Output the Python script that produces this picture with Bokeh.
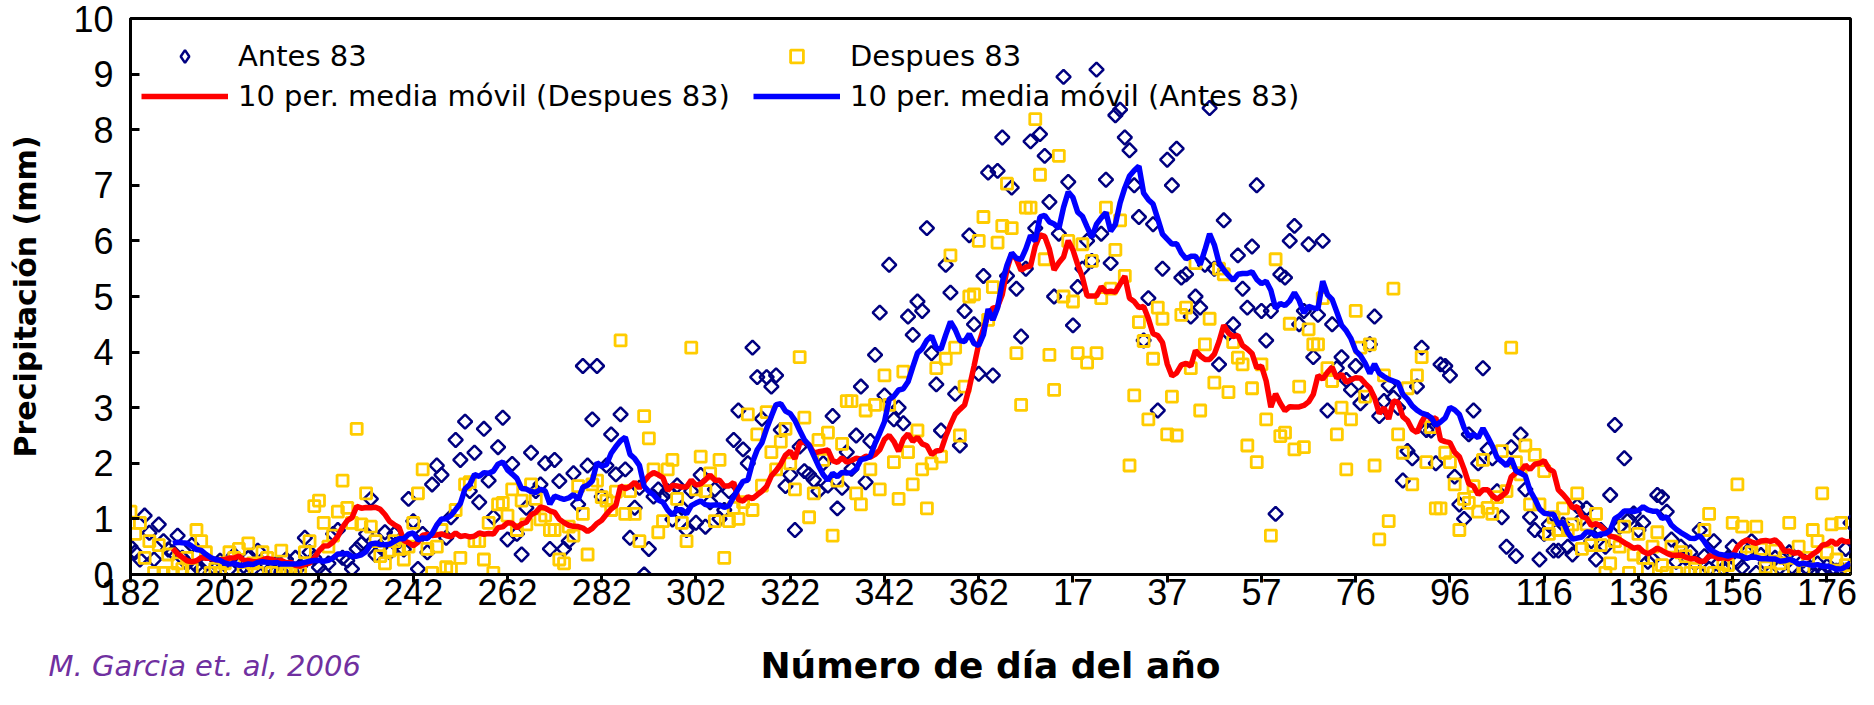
import math
import pandas as pd
from bokeh.plotting import figure
from bokeh.models import Range1d, FixedTicker, Legend, LegendItem, Title, LinearAxis
from bokeh.embed import file_html
from bokeh.resources import INLINE

# Day-of-year tick labels (every 20 categories, starting at day 182)
tick_labels = ["182", "202", "222", "242", "262", "282", "302", "322", "342", "362",
               "17", "37", "57", "76", "96", "116", "136", "156", "176"]

# Precipitation (mm) per day, series "Antes 83"
antes = [
    0.5, 0.4, 0.27, 1.06, 0.75, 0.27, 0.9, 0.6, 0.45, 0.4,
    0.7, 0.3, 0.2, 0.53, 0.15, 0.1, 0.2, 0.03, 0.1, 0.25,
    0.2, 0.1, 0.35, 0.2, 0.15, 0.3, 0.1, 0.43, 0.2, 0.15,
    0.1, 0.2, 0.05, 0.27, 0.1, 0.3, 0.15, 0.66, 0.4, 0.3,
    0.13, 0.03, 0.2, 0.73, 0.8, 0.3, 0.25, 0.1, 0.46, 0.55,
    0.73, 1.36, 0.35, 0.5, 0.76, 0.4, 0.73, 0.6, 0.45, 1.36,
    0.96, 0.1, 0.73, 0.4, 1.62, 1.96, 1.79, 0.66, 1.03, 2.42,
    2.06, 2.75, 1.5, 2.19, 1.3, 2.62, 1.69, 1.03, 2.29, 2.82,
    0.63, 1.99, 0.73, 0.36, 1.2, 2.19, 1.5, 1.62, 2.0, 0.46,
    2.06, 1.68, 0.46, 0.6, 1.82, 1.26, 3.75, 1.96, 2.79, 3.75,
    1.4, 1.96, 2.52, 1.8, 2.88, 1.89, 0.66, 1.2, 1.56, 0.0,
    0.46, 1.4, 1.53, 1.4, 1.5, 0.99, 1.6, 1.2, 0.8, 1.5,
    0.93, 1.79, 0.86, 1.3, 1.53, 1.0, 1.16, 1.5, 2.42, 2.95,
    2.25, 2.0, 4.08, 3.55, 2.8, 3.55, 3.38, 3.58, 2.6, 1.59,
    1.79, 0.8, 2.3, 1.86, 1.8, 1.7, 1.5, 2.0, 1.6, 2.85,
    1.19, 1.56, 2.2, 1.9, 2.5, 3.38, 1.66, 2.4, 3.95, 4.71,
    3.22, 5.57, 2.79, 3.0, 2.72, 4.64, 4.31, 4.91, 4.74, 6.23,
    3.98, 3.42, 2.59, 5.57, 5.07, 3.25, 2.32, 4.74, 6.1, 4.5,
    3.61, 5.37, 7.23, 3.58, 7.26, 7.86, 5.37, 6.96, 5.14, 4.28,
    5.5, 7.79, 6.23, 7.92, 7.53, 6.7, 5.0, 6.13, 8.95, 7.06,
    4.48, 5.17, 5.5, 6.0, 5.64, 9.08, 6.13, 7.1, 5.6, 8.26,
    8.36, 7.86, 7.63, 7.0, 6.43, 4.21, 4.97, 6.3, 2.95, 5.5,
    7.46, 7.0, 7.66, 5.34, 5.4, 4.64, 5.0, 4.8, 5.57, 8.39,
    5.5, 3.78, 6.37, 4.34, 4.5, 5.74, 5.14, 4.8, 5.9, 7.0,
    4.74, 4.21, 4.74, 1.09, 5.4, 5.34, 6.0, 6.27, 4.5, 4.74,
    5.94, 3.91, 4.67, 6.0, 2.95, 4.5, 3.71, 3.91, 3.5, 3.32,
    3.75, 3.08, 3.3, 4.14, 4.64, 2.85, 3.12, 3.4, 3.18, 3.0,
    1.69, 2.22, 2.09, 3.38, 4.08, 2.6, 2.59, 2.0, 3.78, 3.75,
    3.58, 1.76, 1.26, 1.0, 2.52, 2.95, 2.0, 3.71, 2.25, 2.09,
    1.5, 1.03, 0.5, 2.29, 0.33, 2.52, 1.53, 1.03, 0.8, 0.27,
    0.73, 0.9, 0.43, 0.43, 0.9, 0.5, 0.36, 1.23, 1.0, 1.19,
    0.6, 0.27, 0.8, 0.5, 1.43, 2.69, 0.86, 2.09, 0.99, 1.1,
    0.8, 0.93, 0.23, 0.27, 1.43, 1.39, 1.13, 0.63, 0.23, 0.5,
    0.3, 0.4, 0.2, 0.8, 0.33, 0.1, 0.6, 0.2, 0.1, 0.3,
    0.5, 0.23, 0.13, 0.4, 0.6, 0.03, 0.35, 0.2, 0.03, 0.3,
    0.13, 0.3, 0.4, 0.1, 0.0, 0.25, 0.1, 0.0, 0.2, 0.0,
    0.15, 0.1, 0.07, 0.1, 0.46, 0.93,
]

# Precipitation (mm) per day, series "Despues 83"
despues = [
    1.13, 0.73, 0.93, 0.3, 0.6, 0.03, 0.53, 0.03, 0.36, 0.03,
    0.2, 0.1, 0.3, 0.1, 0.8, 0.6, 0.4, 0.03, 0.1, 0.03,
    0.2, 0.4, 0.3, 0.46, 0.03, 0.56, 0.2, 0.03, 0.4, 0.3,
    0.03, 0.1, 0.43, 0.03, 0.1, 0.03, 0.03, 0.4, 0.6, 1.23,
    1.33, 0.93, 0.5, 0.7, 1.13, 1.69, 1.2, 0.93, 2.62, 0.9,
    1.46, 0.86, 0.6, 0.33, 0.2, 0.43, 0.6, 0.46, 0.27, 0.5,
    0.93, 1.46, 1.89, 0.46, 0.03, 0.5, 0.8, 0.13, 0.1, 1.16,
    0.3, 1.62, 1.66, 0.6, 0.6, 0.27, 0.93, 0.03, 1.26, 1.29,
    1.06, 1.53, 0.8, 1.33, 0.9, 1.62, 1.36, 0.99, 1.06, 0.8,
    0.8, 0.27, 0.2, 0.86, 0.7, 1.59, 1.09, 0.36, 1.62, 1.69,
    1.39, 1.33, 1.16, 1.49, 4.21, 1.09, 1.5, 1.09, 0.6, 2.85,
    2.45, 1.89, 0.76, 0.96, 1.89, 2.06, 1.36, 0.93, 0.6, 4.08,
    1.53, 2.12, 1.5, 1.82, 0.96, 2.06, 0.3, 0.96, 1.2, 1.0,
    1.3, 2.88, 1.16, 2.52, 1.6, 2.92, 2.2, 1.89, 2.39, 2.62,
    2.0, 1.53, 3.91, 2.82, 1.03, 1.46, 2.42, 2.06, 2.55, 0.7,
    1.69, 2.35, 3.12, 3.12, 1.46, 1.26, 2.95, 1.89, 3.05, 1.53,
    3.58, 3.05, 2.02, 1.36, 3.65, 2.2, 1.62, 2.59, 1.89, 1.19,
    2.0, 3.71, 2.12, 3.88, 5.74, 4.08, 2.5, 3.38, 5.0, 5.04,
    6.0, 6.43, 4.58, 5.17, 5.97, 6.27, 7.03, 6.23, 3.98, 3.05,
    6.6, 6.6, 8.19, 7.19, 5.67, 3.95, 3.32, 7.53, 5.0, 6.0,
    4.91, 3.98, 5.94, 3.81, 5.64, 3.98, 4.97, 6.6, 5.14, 5.84,
    6.37, 5.37, 1.96, 3.22, 4.54, 4.2, 2.79, 3.88, 4.8, 4.6,
    2.52, 3.2, 2.5, 4.67, 4.8, 3.71, 5.6, 2.95, 4.14, 4.6,
    3.45, 5.5, 5.4, 3.28, 4.18, 3.9, 3.78, 2.32, 3.35, 2.02,
    3.78, 2.79, 0.7, 5.67, 2.49, 2.55, 4.51, 2.25, 3.38, 2.29,
    4.41, 4.14, 4.14, 4.97, 3.71, 3.48, 2.52, 3.0, 1.89, 2.79,
    4.74, 4.08, 3.2, 4.14, 1.96, 0.63, 3.58, 0.96, 5.14, 2.52,
    2.19, 3.35, 1.62, 3.58, 3.91, 2.02, 2.65, 1.19, 1.19, 2.19,
    2.02, 1.62, 0.8, 1.36, 1.29, 1.59, 1.13, 2.06, 1.2, 1.09,
    1.39, 2.22, 1.5, 4.08, 2.02, 1.8, 2.32, 1.26, 2.15, 1.26,
    1.86, 0.73, 1.03, 0.8, 1.19, 0.8, 0.9, 1.46, 0.46, 0.9,
    0.53, 1.09, 0.53, 0.03, 0.2, 0.6, 0.5, 0.86, 0.03, 0.36,
    0.73, 0.3, 0.1, 0.5, 0.76, 0.17, 0.03, 0.5, 0.03, 0.4,
    0.33, 0.03, 0.1, 0.03, 0.8, 1.09, 0.03, 0.03, 0.2, 0.17,
    0.93, 1.62, 0.86, 0.5, 0.4, 0.86, 0.46, 0.13, 0.03, 0.43,
    0.2, 0.3, 0.93, 0.1, 0.5, 0.07, 0.3, 0.8, 0.6, 1.46,
    0.4, 0.9, 0.27, 0.93, 0.17, 0.1,
]

WINDOW = 10  # "10 per. media móvil"

x = list(range(len(antes)))
ma_antes = list(pd.Series(antes).rolling(WINDOW).mean()[WINDOW - 1:])
ma_despues = list(pd.Series(despues).rolling(WINDOW).mean()[WINDOW - 1:])
x_ma = x[WINDOW - 1:]

tick_pos = [i * 20 for i in range(len(tick_labels))]

TICK_FONT = "Liberation Sans"
TEXT_FONT = "DejaVu Sans"

p = figure(width=1858, height=689, output_backend="svg", toolbar_location=None,
           x_range=Range1d(0, len(antes) - 1), y_range=Range1d(0, 10),
           min_border_left=130, min_border_right=8, min_border_top=18,
           min_border_bottom=115)
p.background_fill_color = "white"
p.border_fill_color = "white"
p.outline_line_color = "black"
p.outline_line_width = 3
p.xgrid.visible = False
p.ygrid.visible = False

NAVY = "#000080"
GOLD = "#FFCC00"

r_a = p.scatter(x, antes, marker="square", angle=math.pi / 4, size=10,
                fill_color=None, line_color=NAVY, line_width=2.5)
r_d = p.scatter(x, despues, marker="square", size=11,
                fill_color=None, line_color=GOLD, line_width=2.8)
r_red = p.line(x_ma, ma_despues, line_color="#FF0000", line_width=5.5)
r_blue = p.line(x_ma, ma_antes, line_color="#0000FF", line_width=5.5)
# legend key for the diamonds (legend glyphs are drawn unrotated), hidden in plot
r_a_key = p.scatter(x, antes, marker="diamond", size=10, visible=False,
                    fill_color=None, line_color=NAVY, line_width=2.5)

# Main x axis: ticks and tick labels
xa = p.xaxis[0]
xa.ticker = FixedTicker(ticks=tick_pos)
xa.major_label_overrides = {pos: lab for pos, lab in zip(tick_pos, tick_labels)}
xa.minor_tick_line_color = None
xa.major_tick_in = 0
xa.major_tick_out = 8
xa.major_tick_line_width = 3
xa.axis_line_width = 3
xa.major_label_standoff = -4
xa.major_label_text_font = TICK_FONT
xa.major_label_text_font_size = "36px"
xa.major_label_text_color = "black"

# Empty band below the tick labels (draws nothing) so that the titles can sit low
band = LinearAxis(ticker=FixedTicker(ticks=tick_pos), major_tick_out=57,
                  major_tick_in=0, minor_tick_out=0, minor_tick_in=0,
                  major_tick_line_color=None, minor_tick_line_color=None,
                  axis_line_color=None, major_label_text_color=None)
p.add_layout(band, "below")

ya = p.yaxis[0]
ya.ticker = FixedTicker(ticks=list(range(0, 11)))
ya.minor_tick_line_color = None
ya.major_tick_in = 9
ya.major_tick_out = 0
ya.major_tick_line_width = 3
ya.axis_line_width = 3
ya.major_label_standoff = 17
ya.major_label_text_font = TICK_FONT
ya.major_label_text_font_size = "36px"
ya.major_label_text_color = "black"
ya.axis_label = "Precipitación (mm)"
ya.axis_label_text_font = TEXT_FONT
ya.axis_label_text_font_style = "bold"
ya.axis_label_text_font_size = "30px"
ya.axis_label_text_color = "black"
ya.axis_label_standoff = 27

# Legends (two columns, transparent)
def make_legend(items, loc):
    lg = Legend(items=items, location=loc, orientation="vertical")
    lg.border_line_color = None
    lg.background_fill_alpha = 0
    lg.padding = 0
    lg.margin = 0
    lg.spacing = 6
    lg.glyph_width = 87
    lg.glyph_height = 32
    lg.label_height = 34
    lg.label_standoff = 10
    lg.label_text_font = TEXT_FONT
    lg.label_text_font_size = "29px"
    lg.label_text_color = "black"
    return lg

leg1 = make_legend([LegendItem(label="Antes 83", renderers=[r_a_key]),
                    LegendItem(label="10 per. media móvil (Despues 83)", renderers=[r_red])],
                   (11, 461))
leg2 = make_legend([LegendItem(label="Despues 83", renderers=[r_d]),
                    LegendItem(label="10 per. media móvil (Antes 83)", renderers=[r_blue])],
                   (623, 461))
p.add_layout(leg1)
p.add_layout(leg2)

# x-axis title, centred under the frame
xtitle = Title(text="Número de día del año", align="center", vertical_align="top",
               standoff=-40, text_font=TEXT_FONT, text_font_style="bold",
               text_font_size="36px", text_color="black")
p.add_layout(xtitle, "below")

# Source note, on the same row as the x-axis title
cite = Title(text="M.  Garcia et. al, 2006", align="left", vertical_align="top",
             offset=-82, standoff=-38, text_font=TEXT_FONT,
             text_font_style="italic", text_font_size="29px", text_color="#7030A0")
p.add_layout(cite, "below")

open("out.html", "w").write(file_html(p, INLINE))
